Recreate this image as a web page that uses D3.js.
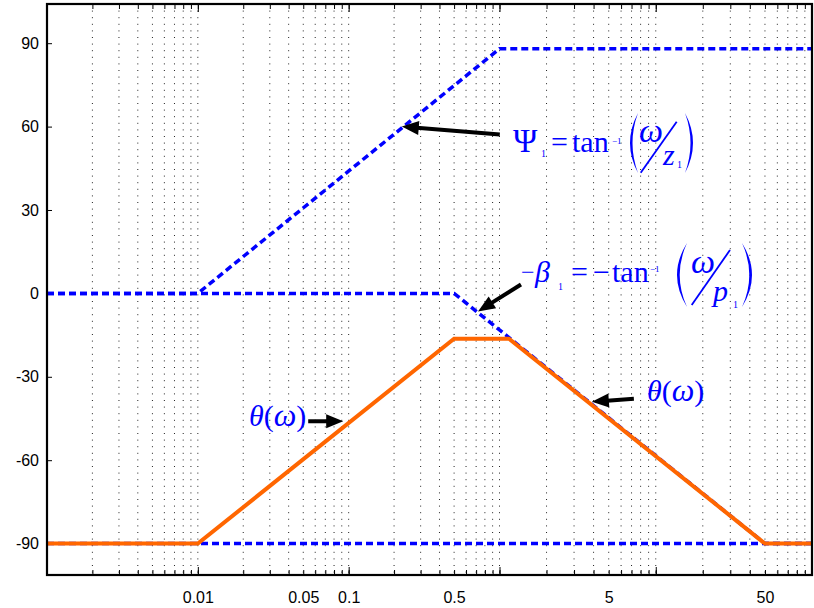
<!DOCTYPE html>
<html><head><meta charset="utf-8">
<script src="https://cdn.jsdelivr.net/npm/d3@7"></script>
<style>body{margin:0;background:#fff}</style>
</head><body>
<svg id="chart" width="814" height="608"></svg>
<script>
// Straight-line (asymptotic) phase approximations, degrees vs. frequency
const psiFreq = [0.001, 0.01, 1, 100];
const psiDeg = [0, 0, 88, 88];
const betaFreq = [0.001, 0.5, 50, 100];
const betaDeg = [0, 0, -90, -90];
const integFreq = [0.001, 100];
const integDeg = [-90, -90];
const thetaFreq = [0.001, 0.01, 0.5, 1.15, 50, 100];
const thetaDeg = [-90, -90, -16.3, -16.3, -90, -90];

const yTicks = [-90, -60, -30, 0, 30, 60, 90];
const xTickValues = [0.01, 0.05, 0.1, 0.5, 5, 50];
const xTickLabels = ["0.01", "0.05", "0.1", "0.5", "5", "50"];

const L = 47, R = 812, T = 4, B = 575;
const svg = d3.select("#chart");
svg.append("rect").attr("width", 814).attr("height", 608).attr("fill", "#fff");

const x = d3.scaleLog().domain([0.001, 1, 100]).range([L, 499.5, R]);
const y = d3.scaleLinear().domain([-101.3, 104.1]).range([B, T]);

// log grid positions: 1..9 times each decade
const gridVals = [];
const decades = [];
for (let e = -3; e <= 1; e++) {
  decades.push(Math.pow(10, e));
  for (let k = 1; k <= 9; k++) {
    const v = +(k * Math.pow(10, e)).toPrecision(6);
    if (v > 0.001 && v < 100) gridVals.push(v);
  }
}

svg.append("g").selectAll("line").data(gridVals).join("line")
  .attr("x1", d => x(d)).attr("x2", d => x(d))
  .attr("y1", T).attr("y2", B)
  .attr("stroke", "#222").attr("stroke-width", 1)
  .attr("stroke-dasharray", "1,5.6");

// tick marks pointing into the plot, bottom and top
function ticks(axisFn, ypos, vals, size) {
  const g = svg.append("g").attr("transform", `translate(0,${ypos})`)
    .call(axisFn(x).tickValues(vals).tickSize(-size).tickFormat(""));
  g.select(".domain").remove();
  g.selectAll("line").attr("stroke", "#000").attr("stroke-width", 1);
}
ticks(d3.axisBottom, B, gridVals, 5);
ticks(d3.axisTop, T, gridVals, 5);
ticks(d3.axisBottom, B, decades.filter(d => d > 0.001), 8);
ticks(d3.axisTop, T, decades.filter(d => d > 0.001), 8);

const xLab = svg.append("g").attr("transform", `translate(0,${B})`)
  .call(d3.axisBottom(x).tickValues(xTickValues).tickSize(0).tickPadding(17)
    .tickFormat((d, i) => xTickLabels[i]));
xLab.select(".domain").remove();
xLab.selectAll("text").attr("font-family", "'Liberation Sans', Arial, sans-serif")
  .attr("font-size", 16).attr("fill", "#000");

const yAx = svg.append("g").attr("transform", `translate(${L},0)`)
  .call(d3.axisLeft(y).tickValues(yTicks).tickSize(-5).tickPadding(8)
    .tickFormat(d => String(d)));
yAx.select(".domain").remove();
yAx.selectAll("line").attr("stroke", "#000");
yAx.selectAll("text").attr("font-family", "'Liberation Sans', Arial, sans-serif")
  .attr("font-size", 16).attr("fill", "#000");

// curves
const line = d3.line().x(d => x(d[0])).y(d => y(d[1]));
const zipped = (f, v) => f.map((d, i) => [d, v[i]]);
const blue = "#0000ff";

[[integFreq, integDeg], [psiFreq, psiDeg], [betaFreq, betaDeg]].forEach(([f, v]) => {
  svg.append("path").attr("d", line(zipped(f, v)))
    .attr("fill", "none").attr("stroke", blue).attr("stroke-width", 3.5)
    .attr("stroke-dasharray", "7,4");
});
svg.append("path").attr("d", line(zipped(thetaFreq, thetaDeg)))
  .attr("fill", "none").attr("stroke", "#ff6600").attr("stroke-width", 4)
  .attr("stroke-linejoin", "miter");

// axes box
svg.append("rect").attr("x", L).attr("y", T).attr("width", R - L).attr("height", B - T)
  .attr("fill", "none").attr("stroke", "#000").attr("stroke-width", 2.2);

// annotation arrows: tip on the curve (data units), tail offset in px
const arrows = [
  {f: 0.225, v: 60, dx: 98, dy: 8},
  {f: 0.72, v: -6.5, dx: 43, dy: -27},
  {f: 0.092, v: -46, dx: -35, dy: 0},
  {f: 3.9, v: -39, dx: 42, dy: -3}
];
arrows.forEach(a => {
  const tx = x(a.f), ty = y(a.v);
  const sx = tx + a.dx, sy = ty + a.dy;
  const len = Math.hypot(a.dx, a.dy);
  const ux = -a.dx / len, uy = -a.dy / len;
  const hl = 17, hw = 7;
  const bx = tx - ux * hl, by = ty - uy * hl;
  svg.append("line").attr("x1", sx).attr("y1", sy)
    .attr("x2", tx - ux * hl * 0.7).attr("y2", ty - uy * hl * 0.7)
    .attr("stroke", "#000").attr("stroke-width", 4);
  svg.append("polygon")
    .attr("points", [[tx, ty], [bx - uy * hw, by + ux * hw], [bx + uy * hw, by - ux * hw]]
      .map(p => p.join(",")).join(" "))
    .attr("fill", "#000");
});

// equation labels
const serif = "'Liberation Serif', 'Times New Roman', serif";
function txt(px, py, s, size, italic) {
  svg.append("text").attr("x", px).attr("y", py).text(s)
    .attr("font-family", serif).attr("font-size", size)
    .attr("font-style", italic ? "italic" : "normal").attr("fill", blue);
}
function paren(x1, xm, top, bot, thick) {
  const mid = (top + bot) / 2;
  const co = 2 * xm - x1, ci = 2 * (xm + thick) - x1;
  svg.append("path")
    .attr("d", `M${x1},${top} Q${co},${mid} ${x1},${bot} Q${ci},${mid} ${x1},${top} Z`)
    .attr("fill", blue);
}
function slash(x1, y1, x2, y2) {
  svg.append("line").attr("x1", x1).attr("y1", y1).attr("x2", x2).attr("y2", y2)
    .attr("stroke", blue).attr("stroke-width", 1.8);
}

// Psi_1 = tan^-1(omega / z_1)
txt(513, 151.5, "Ψ", 33, false);
txt(541, 157, "1", 10, false);
txt(551, 151.5, "=", 30, false);
txt(572, 151.5, "tan", 30, false);
txt(612, 144, "−1", 9, false);
paren(638, 630, 113, 173, 2.5);
txt(639, 142, "ω", 34, true);
slash(676.7, 121.7, 640.7, 172.7);
txt(663, 165, "z", 30, true);
txt(677, 168, "1", 10, false);
paren(685, 693, 113, 173, -2.5);

// -beta_1 = -tan^-1(omega / p_1)
txt(521, 280, "−", 24, false);
txt(535, 281.7, "β", 30, true);
txt(558, 290, "1", 10, false);
txt(571, 281.7, "=", 30, false);
txt(593, 281.7, "−", 30, false);
txt(612, 281.7, "tan", 30, false);
txt(650, 272, "−1", 9, false);
paren(687, 677, 243, 307, 2.7);
txt(691, 273, "ω", 34, true);
slash(730, 250, 691.7, 305);
txt(713, 301, "p", 30, true);
txt(733, 308, "1", 10, false);
paren(742, 752, 243, 307, -2.7);

// theta(omega) labels
function thetaLabel(px, py) {
  const t = svg.append("text").attr("x", px).attr("y", py)
    .attr("font-family", serif).attr("font-size", 30).attr("fill", blue);
  t.append("tspan").attr("font-style", "italic").text("θ");
  t.append("tspan").text("(");
  t.append("tspan").attr("font-style", "italic").attr("font-size", 32).text("ω");
  t.append("tspan").text(")");
}
thetaLabel(249, 425.7);
thetaLabel(647, 400.7);
</script>
</body></html>
